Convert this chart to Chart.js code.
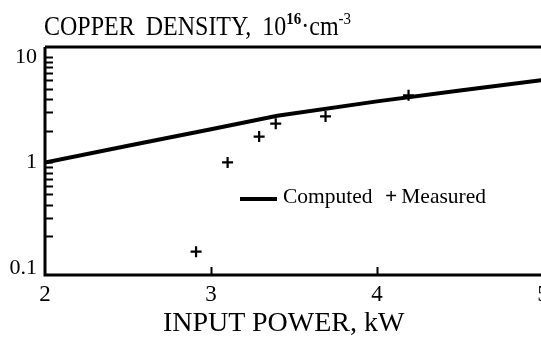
<!DOCTYPE html>
<html>
<head>
<meta charset="utf-8">
<script src="https://cdn.jsdelivr.net/npm/chart.js@4.4.1/dist/chart.umd.min.js"></script>
<style>
    html, body { margin: 0; padding: 0; background: #fff; }
    #box { position: relative; width: 541px; height: 340px; overflow: hidden; }
    #grafico { position: absolute; left: 0; top: 0; }
    .txt { position: absolute; font-family: "Liberation Serif", "Times New Roman", serif; color: #000; white-space: nowrap; }
    #titulo { left: 44px; top: 12px; font-size: 24px; word-spacing: 5px; transform: scaleY(1.1); transform-origin: left top; }
    #titulo sup { font-size: 15px; font-weight: bold; vertical-align: 0; position: relative; top: -10px; }
    #titulo .exp { font-size: 15px; position: relative; top: -10px; }
    #tituloX { left: 163px; top: 306px; font-size: 28px; }
    #legenda { left: 240px; top: 184px; font-size: 21.5px; }
    #legenda .traco { display: inline-block; width: 37px; height: 4px; background: #000; vertical-align: middle; margin-right: 6px; position: relative; top: 1px; }
    #legenda .mais { font-weight: bold; margin-left: 7px; margin-right: 4px; }
</style>
</head>
<body>
<div id="box">
    <canvas id="grafico" width="560" height="340"></canvas>
    <div class="txt" id="titulo">COPPER DENSITY, 10<sup>16</sup>·cm<span class="exp">-3</span></div>
    <div class="txt" id="tituloX">INPUT POWER, kW</div>
    <div class="txt" id="legenda"><span class="traco"></span>Computed <span class="mais">+</span>Measured</div>
</div>
<script>
// ===================== DADOS =====================
const potenciaCalc = [2, 2.5, 3, 3.4, 4, 4.5, 5];
const densidadeCalc = [1.0, 1.44, 2.06, 2.77, 3.79, 4.8, 6.04];

const potenciaMedida = [2.91, 3.1, 3.29, 3.39, 3.69, 4.19];
const densidadeMedida = [0.143, 1.0, 1.76, 2.33, 2.73, 4.32];

const ticksX = [2, 3, 4, 5];
const ticksY = [0.1, 1, 10];

const fonteEixo = "'Liberation Serif', 'Times New Roman', serif";

// ===================== MOLDURA E TRACINHOS =====================
const moldura = {
    id: 'moldura',
    afterDraw(chart) {
        const ctx = chart.ctx;
        const a = chart.chartArea;
        const sx = chart.scales.x;
        const sy = chart.scales.y;
        ctx.save();
        ctx.strokeStyle = '#000';
        ctx.lineCap = 'butt';

        // eixos e borda superior
        ctx.lineWidth = 3;
        ctx.beginPath();
        ctx.moveTo(a.left, a.top);
        ctx.lineTo(a.left, a.bottom);
        ctx.lineTo(a.right, a.bottom);
        ctx.moveTo(a.left, a.top);
        ctx.lineTo(a.right, a.top);
        ctx.stroke();

        // tracinhos do eixo Y (escala log: 1..9 em cada década, de 0.2 a 10)
        ctx.lineWidth = 2;
        ctx.beginPath();
        [0.1, 1].forEach(dec => {
            for (let m = 1; m <= 9; m++) {
                const v = dec * m;
                if (v < 0.15) continue;
                const py = Math.round(sy.getPixelForValue(v)) + 0.5;
                ctx.moveTo(a.left, py);
                ctx.lineTo(a.left + 8, py);
            }
        });
        const p10 = Math.round(sy.getPixelForValue(10)) + 0.5;
        ctx.moveTo(a.left, p10);
        ctx.lineTo(a.left + 8, p10);

        // tracinhos do eixo X
        ticksX.forEach(v => {
            if (v <= sx.min || v >= sx.max) return;
            const px = Math.round(sx.getPixelForValue(v)) + 0.5;
            ctx.moveTo(px, a.bottom);
            ctx.lineTo(px, a.bottom - 8);
        });
        ctx.stroke();
        ctx.restore();
    }
};

// ===================== GRÁFICO =====================
const ctx = document.getElementById('grafico').getContext('2d');
new Chart(ctx, {
    data: {
        datasets: [
            {
                type: 'line',
                label: 'Computed',
                data: potenciaCalc.map((x, i) => ({ x, y: densidadeCalc[i] })),
                borderColor: '#000',
                borderWidth: 4,
                pointRadius: 0,
                tension: 0
            },
            {
                type: 'scatter',
                label: 'Measured',
                data: potenciaMedida.map((x, i) => ({ x, y: densidadeMedida[i] })),
                pointStyle: 'cross',
                pointRadius: 5.5,
                borderColor: '#000',
                borderWidth: 2.2,
                backgroundColor: '#000'
            }
        ]
    },
    options: {
        responsive: false,
        animation: false,
        layout: { padding: { top: 47, right: 17, left: 0, bottom: 0 } },
        plugins: {
            legend: { display: false },
            tooltip: { enabled: false }
        },
        scales: {
            x: {
                type: 'linear',
                min: 2,
                max: 5,
                grid: { display: false, drawTicks: false },
                border: { display: false },
                afterBuildTicks: s => { s.ticks = ticksX.map(v => ({ value: v })); },
                afterFit: s => { s.height = 65; },
                ticks: {
                    color: '#000',
                    padding: 6,
                    maxRotation: 0,
                    font: { family: fonteEixo, size: 23 }
                }
            },
            y: {
                type: 'logarithmic',
                min: 0.086,
                max: 12.4,
                grid: { display: false, drawTicks: false },
                border: { display: false },
                afterBuildTicks: s => { s.ticks = ticksY.map(v => ({ value: v })); },
                afterFit: s => { s.width = 45; },
                ticks: {
                    color: '#000',
                    padding: 8,
                    font: { family: fonteEixo, size: 22 },
                    callback: v => (v === 0.1 ? '0.1' : String(v))
                }
            }
        }
    },
    plugins: [moldura]
});
</script>
</body>
</html>
